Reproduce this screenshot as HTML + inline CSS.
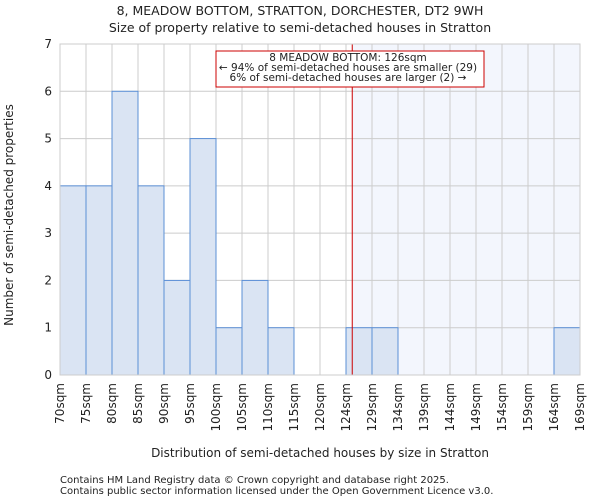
<!DOCTYPE html>
<html><head><meta charset="utf-8"><style>
body{margin:0;background:#fff;font-family:"DejaVu Sans","Liberation Sans",sans-serif;}
svg text{font-family:"DejaVu Sans","Liberation Sans",sans-serif;fill:#222;}
</style></head><body>
<svg id="chart" width="600" height="500" xmlns="http://www.w3.org/2000/svg">
<text x="300" y="15" text-anchor="middle" font-size="12.5">8, MEADOW BOTTOM, STRATTON, DORCHESTER, DT2 9WH</text>
<text x="300" y="32" text-anchor="middle" font-size="12.5">Size of property relative to semi-detached houses in Stratton</text>
<g id="plot"></g>
<text x="320" y="457" text-anchor="middle" font-size="12">Distribution of semi-detached houses by size in Stratton</text>
<text transform="translate(13,215) rotate(-90)" text-anchor="middle" font-size="12">Number of semi-detached properties</text>
<text x="60" y="483" font-size="10" fill="#444">Contains HM Land Registry data © Crown copyright and database right 2025.</text>
<text x="60" y="494" font-size="10" fill="#444">Contains public sector information licensed under the Open Government Licence v3.0.</text>
</svg>
<script>
const edgeLabels=["70sqm","75sqm","80sqm","85sqm","90sqm","95sqm","100sqm","105sqm","110sqm","115sqm","120sqm","124sqm","129sqm","134sqm","139sqm","144sqm","149sqm","154sqm","159sqm","164sqm","169sqm"];
const counts=[4,4,6,4,2,5,1,2,1,0,0,1,1,0,0,0,0,0,0,1];
const yTicks=[0,1,2,3,4,5,6,7];
const markerBin=11.24;
const L=60,R=580,T=44,B=375,yMax=7;
const bw=(R-L)/counts.length;
const xs=i=>L+i*bw;
const ys=v=>B-(B-T)*v/yMax;
const g=document.getElementById('plot');
const NS="http://www.w3.org/2000/svg";
function mk(t,a){const e=document.createElementNS(NS,t);for(const k in a)e.setAttribute(k,a[k]);g.appendChild(e);return e;}
const mx=xs(markerBin);
const sh=mk('rect',{x:mx,y:T,width:R-mx,height:B-T,fill:'#f3f6fd'});


edgeLabels.forEach((l,i)=>{const ln=mk('line',{x1:xs(i),x2:xs(i),y1:T,y2:B,stroke:'#cccccc','stroke-width':1});

});
yTicks.forEach(v=>{const ln=mk('line',{x1:L,x2:R,y1:ys(v),y2:ys(v),stroke:'#cccccc','stroke-width':1});


const t=mk('text',{x:L-8,y:ys(v)+4,'text-anchor':'end','font-size':12});t.textContent=v;

});
counts.forEach((c,i)=>{if(!c)return;const r=mk('rect',{x:xs(i),y:ys(c),width:bw,height:B-ys(c),fill:'#dae4f3',stroke:'#5b8fd6','stroke-width':1});

});
edgeLabels.forEach((l,i)=>{const t=mk('text',{transform:`translate(${xs(i)+4},${B+8}) rotate(-90)`,'text-anchor':'end','font-size':12});t.textContent=l;

});
const ml=mk('line',{x1:mx,x2:mx,y1:T,y2:B,stroke:'#cc0000','stroke-width':1});


const box=mk('rect',{x:216,y:51,width:268,height:36,fill:'#fff',stroke:'#cc0000','stroke-width':1});


["8 MEADOW BOTTOM: 126sqm","← 94% of semi-detached houses are smaller (29)","6% of semi-detached houses are larger (2) →"].forEach((s,i)=>{const t=mk('text',{x:348,y:61+i*10,'text-anchor':'middle','font-size':10.5});t.textContent=s;

});
const ax=mk('rect',{x:L,y:T,width:R-L,height:B-T,fill:'none',stroke:'#cccccc'});


</script>
</body></html>
